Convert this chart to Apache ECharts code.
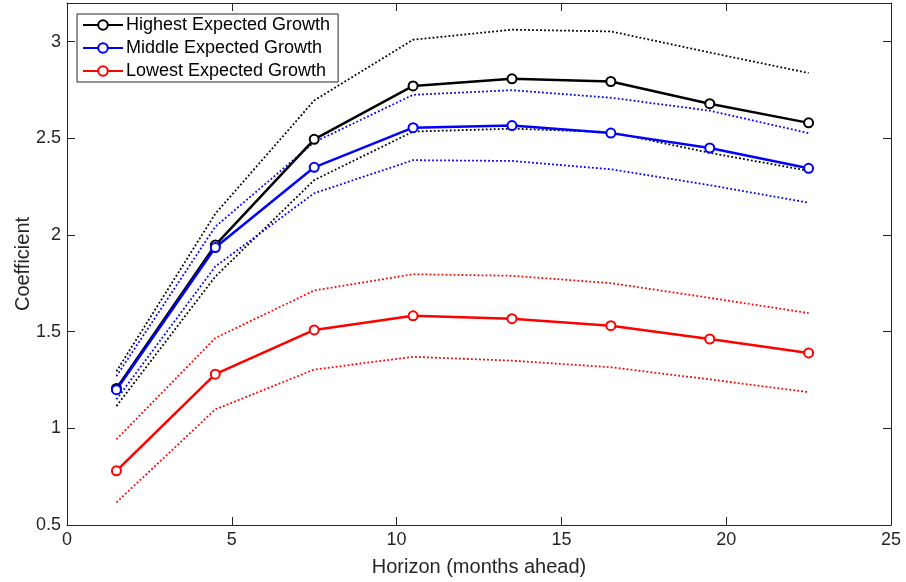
<!DOCTYPE html>
<html>
<head>
<meta charset="utf-8">
<script src="https://cdn.jsdelivr.net/npm/echarts@6/dist/echarts.min.js"></script>
<style>
  html, body { margin: 0; padding: 0; background: #fff; }
  #chart { width: 906px; height: 582px; }
</style>
</head>
<body>
<div id="chart"></div>
<script>
// Horizon in months ahead
const horizon = [1.5, 4.5, 7.5, 10.5, 13.5, 16.5, 19.5, 22.5];

// Coefficient estimates with upper / lower confidence bounds
const highest      = [1.206, 1.948, 2.495, 2.771, 2.808, 2.794, 2.679, 2.580];
const highestUpper = [1.295, 2.110, 2.696, 3.010, 3.062, 3.053, 2.944, 2.838];
const highestLower = [1.115, 1.785, 2.284, 2.535, 2.550, 2.532, 2.425, 2.332];

const middle      = [1.200, 1.935, 2.350, 2.555, 2.566, 2.527, 2.450, 2.345];
const middleUpper = [1.270, 2.043, 2.480, 2.725, 2.749, 2.710, 2.643, 2.527];
const middleLower = [1.150, 1.837, 2.216, 2.387, 2.383, 2.340, 2.258, 2.167];

const lowest      = [0.780, 1.280, 1.509, 1.582, 1.567, 1.531, 1.462, 1.390];
const lowestUpper = [0.943, 1.467, 1.713, 1.797, 1.789, 1.751, 1.675, 1.596];
const lowestLower = [0.617, 1.098, 1.304, 1.370, 1.350, 1.316, 1.253, 1.187];

const seriesNames = ['Highest Expected Growth', 'Middle Expected Growth', 'Lowest Expected Growth'];
const xTicks = [0, 5, 10, 15, 20, 25];
const yTicks = [0.5, 1, 1.5, 2, 2.5, 3];

const FONT = 'Liberation Sans, Arial, Helvetica, sans-serif';
const AXIS_COLOR = '#262626';

const pair = (ys) => horizon.map((x, i) => [x, ys[i]]);

function bound(ys, color) {
  return {
    type: 'line', data: pair(ys), symbol: 'none', silent: true,
    lineStyle: { color: color, width: 1.8, type: [1.8, 2.2] },
    z: 2
  };
}
function main(name, ys, color) {
  return {
    name: name, type: 'line', data: pair(ys),
    symbol: 'emptyCircle', symbolSize: 9,
    itemStyle: { color: color, borderColor: color, borderWidth: 2 },
    lineStyle: { color: color, width: 2.5 },
    z: 3
  };
}

const chart = echarts.init(document.getElementById('chart'), null, { renderer: 'canvas' });

// Box-style axes: lines stay on the plot edges, ticks point inward
const axisLine = { show: true, onZero: false, lineStyle: { color: AXIS_COLOR, width: 1 } };
const axisTick = { show: true, inside: true, length: 8, lineStyle: { color: AXIS_COLOR, width: 1 } };

chart.setOption({
  animation: false,
  backgroundColor: '#fff',
  textStyle: { fontFamily: FONT },
  grid: { left: 67, right: 15, top: 3, bottom: 56 },
  legend: {
    data: seriesNames,
    orient: 'vertical',
    left: 77, top: 14,
    padding: [2, 8, 2, 5],
    itemGap: 5,
    itemWidth: 40, itemHeight: 12,
    backgroundColor: '#fff',
    borderColor: AXIS_COLOR, borderWidth: 1,
    textStyle: { fontFamily: FONT, fontSize: 18, color: '#000', padding: [0, 0, 0, -2] }
  },
  xAxis: [
    {
      type: 'value', min: xTicks[0], max: xTicks[xTicks.length - 1], interval: 5,
      position: 'bottom',
      name: 'Horizon (months ahead)', nameLocation: 'middle', nameGap: 32, nameMoveOverlap: false,
      nameTextStyle: { fontFamily: FONT, fontSize: 20, color: AXIS_COLOR },
      axisLine: axisLine,
      axisTick: axisTick,
      axisLabel: { fontFamily: FONT, fontSize: 18, color: AXIS_COLOR, margin: 6 },
      splitLine: { show: false }
    },
    {
      type: 'value', min: xTicks[0], max: xTicks[xTicks.length - 1], interval: 5,
      position: 'top',
      axisLine: axisLine,
      axisTick: axisTick,
      axisLabel: { show: false },
      splitLine: { show: false }
    }
  ],
  yAxis: [
    {
      type: 'value', min: yTicks[0], max: 3.2, interval: 0.5,
      position: 'left',
      name: 'Coefficient', nameLocation: 'middle', nameGap: 34, nameMoveOverlap: false,
      nameTextStyle: { fontFamily: FONT, fontSize: 20, color: AXIS_COLOR },
      axisLine: axisLine,
      axisTick: axisTick,
      axisLabel: { fontFamily: FONT, fontSize: 18, color: AXIS_COLOR, margin: 6, showMaxLabel: false },
      splitLine: { show: false }
    },
    {
      type: 'value', min: yTicks[0], max: 3.2, interval: 0.5,
      position: 'right',
      axisLine: axisLine,
      axisTick: axisTick,
      axisLabel: { show: false },
      splitLine: { show: false }
    }
  ],
  series: [
    bound(highestUpper, '#000000'),
    bound(highestLower, '#000000'),
    bound(middleUpper, '#0000ff'),
    bound(middleLower, '#0000ff'),
    bound(lowestUpper, '#ff0000'),
    bound(lowestLower, '#ff0000'),
    main(seriesNames[0], highest, '#000000'),
    main(seriesNames[1], middle, '#0000ff'),
    main(seriesNames[2], lowest, '#ff0000')
  ]
});
</script>
</body>
</html>
